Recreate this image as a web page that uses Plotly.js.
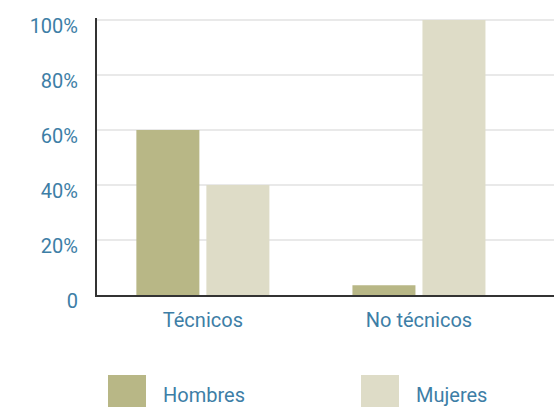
<!DOCTYPE html>
<html>
<head>
<meta charset="utf-8">
<script src="https://cdn.plot.ly/plotly-3.0.1.min.js"></script>
<style>
html, body { margin: 0; padding: 0; background: #fff; }
#chart { width: 554px; height: 407px; }
</style>
</head>
<body>
<div id="chart"></div>
<script>
var categories = ["Técnicos", "No técnicos"]
var seriesNames = ["Hombres", "Mujeres"]
var hombres = [0.60, 0.035]
var mujeres = [0.40, 1.00]
var tickVals = [0, 0.2, 0.4, 0.6, 0.8, 1.0]
var tickText = ["0", "20%", "40%", "60%", "80%", "100%"]

var colors = ["#b8b786", "#dedcc7"]
var textColor = "#3d7ea6"
var font = "Roboto, 'DejaVu Sans', sans-serif"

var data = [{
    x: categories,
    y: hombres,
    name: seriesNames[0],
    type: "bar",
    marker: {color: colors[0]},
    hoverinfo: "none"
}, {
    x: categories,
    y: mujeres,
    name: seriesNames[1],
    type: "bar",
    marker: {color: colors[1]},
    hoverinfo: "none"
}]

// legend drawn by hand, big squares like the original
var shapes = []
var annotations = []
var legendX = [108, 361]
for (let i = 0; i < seriesNames.length; i++) {
    shapes.push({
        type: "rect", xref: "paper", yref: "paper",
        x0: (legendX[i] - 97) / 457, x1: (legendX[i] + 38 - 97) / 457,
        y0: -(375 - 295) / 277, y1: -(410 - 295) / 277,
        fillcolor: colors[i], line: {width: 0}
    })
    annotations.push({
        xref: "paper", yref: "paper",
        x: (legendX[i] + 53 - 97) / 457, y: -(395 - 295) / 277,
        xanchor: "left", yanchor: "middle",
        text: seriesNames[i], showarrow: false,
        font: {family: font, size: 20, color: textColor}
    })
}

var layout = {
    width: 554,
    height: 407,
    margin: {l: 97, r: 0, t: 18, b: 112},
    paper_bgcolor: "#fff",
    plot_bgcolor: "#fff",
    barmode: "group",
    bargap: 0.352,
    bargroupgap: 0.1,
    showlegend: false,
    font: {family: font, size: 20, color: textColor},
    xaxis: {
        range: [-0.49, 1.625],
        showline: true, linecolor: "#333", linewidth: 2,
        showgrid: false, zeroline: false,
        ticks: "", ticklabelstandoff: 6,
        tickfont: {family: font, size: 20, color: textColor},
        fixedrange: true
    },
    yaxis: {
        range: [0, 1.007],
        tickvals: tickVals, ticktext: tickText,
        showline: true, linecolor: "#333", linewidth: 2,
        showgrid: true, gridcolor: "#e9e9e9", gridwidth: 2,
        zeroline: false,
        ticks: "", ticklabelstandoff: 13, ticklabelshift: 6,
        tickfont: {family: font, size: 20, color: textColor},
        fixedrange: true
    },
    shapes: shapes,
    annotations: annotations
}

Plotly.newPlot("chart", data, layout, {displayModeBar: false, staticPlot: true})
</script>
</body>
</html>
